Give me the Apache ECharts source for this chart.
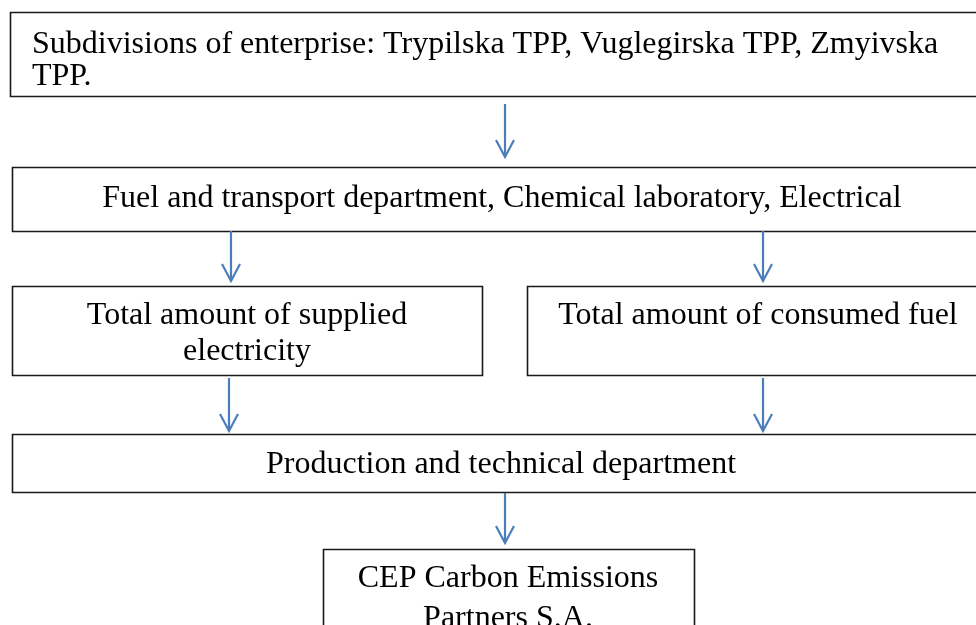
<!DOCTYPE html>
<html>
<head>
<meta charset="utf-8">
<script src="https://cdn.jsdelivr.net/npm/echarts@6/dist/echarts.min.js"></script>
<style>
  html, body { margin: 0; padding: 0; background: #fff; }
  #main { width: 976px; height: 625px; }
</style>
</head>
<body>
<div id="main"></div>
<script>
// box texts of the flow
var boxLabels = [
    'Subdivisions of enterprise: Trypilska TPP, Vuglegirska TPP, Zmyivska\nTPP.',
    'Fuel and transport department, Chemical laboratory, Electrical',
    'Total amount of supplied\nelectricity',
    'Total amount of consumed fuel',
    'Production and technical department',
    'CEP Carbon Emissions\nPartners S.A.'
];
// links between boxes (from -> to)
var links = [[0, 1], [1, 2], [1, 3], [2, 4], [3, 4], [4, 5]];

// layout, in page pixels (x0, y0, x1, y1)
var boxRects = [
    [10, 12, 1000, 96],
    [12, 167, 1000, 231],
    [12, 286, 482, 375],
    [527, 286, 1000, 375],
    [12, 434, 1000, 492],
    [323, 549, 694, 700]
];
// text anchors: x, y, align, line height
var textAnchors = [
    [32, 61, 'left', 32],
    [502, 199, 'center', 35],
    [247, 334, 'center', 36],
    [758, 316, 'center', 35],
    [501, 465, 'center', 35],
    [508, 599, 'center', 40]
];
// arrows: x, yStart, yEnd
var arrowLines = [
    [505, 104, 157],
    [231, 231, 281],
    [763, 231, 281],
    [229, 378, 431],
    [763, 378, 431],
    [505, 493, 543]
];

var myChart = echarts.init(document.getElementById('main'));

var option = {
    backgroundColor: '#ffffff',
    animation: false,
    grid: { left: 0, right: 0, top: 0, bottom: 0 },
    xAxis: { type: 'value', min: 0, max: 976, show: false },
    yAxis: { type: 'value', min: 0, max: 625, inverse: true, show: false },
    series: [
        {
            type: 'custom',
            name: 'boxes',
            clip: true,
            data: boxLabels.map(function (t, i) { return [i]; }),
            renderItem: function (params, api) {
                var i = api.value(0);
                var r = boxRects[i];
                var p0 = api.coord([r[0], r[1]]);
                var p1 = api.coord([r[2], r[3]]);
                var a = textAnchors[i];
                var tp = api.coord([a[0], a[1]]);
                return {
                    type: 'group',
                    children: [
                        {
                            type: 'rect',
                            shape: { x: p0[0] + 0.5, y: p0[1] + 0.5, width: p1[0] - p0[0], height: p1[1] - p0[1] },
                            style: { fill: '#fff', stroke: '#1a1a1a', lineWidth: 1.6 }
                        },
                        {
                            type: 'text',
                            x: tp[0],
                            y: tp[1],
                            style: {
                                text: boxLabels[i],
                                x: 0,
                                y: 0,
                                align: a[2],
                                verticalAlign: 'middle',
                                fontFamily: 'Liberation Serif',
                                fontSize: 32,
                                lineHeight: a[3],
                                fill: '#000'
                            }
                        }
                    ]
                };
            }
        },
        {
            type: 'custom',
            name: 'arrows',
            data: links,
            renderItem: function (params, api) {
                var ar = arrowLines[params.dataIndex];
                var s = api.coord([ar[0], ar[1]]);
                var e = api.coord([ar[0], ar[2]]);
                return {
                    type: 'group',
                    children: [
                        {
                            type: 'line',
                            shape: { x1: s[0], y1: s[1], x2: e[0], y2: e[1] },
                            style: { stroke: '#4a7ebb', lineWidth: 2.2 }
                        },
                        {
                            type: 'polyline',
                            shape: { points: [[e[0] - 9, e[1] - 17], [e[0], e[1]], [e[0] + 9, e[1] - 17]] },
                            style: { stroke: '#4a7ebb', lineWidth: 2.2, fill: null }
                        }
                    ]
                };
            }
        }
    ]
};

myChart.setOption(option);
</script>
</body>
</html>
